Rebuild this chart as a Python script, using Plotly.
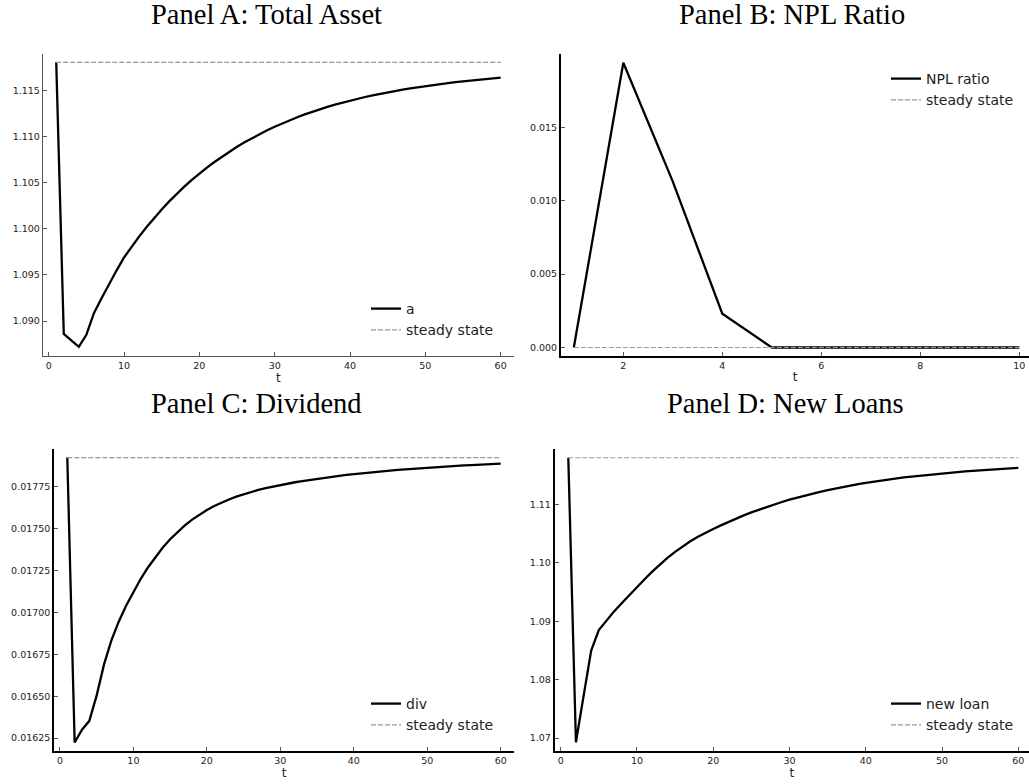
import plotly.graph_objects as go

W, H = 1029, 784

t60 = list(range(1, 61))
t10 = list(range(1, 11))

asset = [1.1181, 1.0886, 1.0879, 1.0872, 1.0885, 1.09085, 1.09245, 1.09400, 1.09548, 1.09690,
         1.09807, 1.09917, 1.10021, 1.10119, 1.10212, 1.10299, 1.10381, 1.10459, 1.10532, 1.10601,
         1.10666, 1.10727, 1.10785, 1.10840, 1.10892, 1.10941, 1.10987, 1.11030, 1.11071, 1.11110,
         1.11146, 1.11180, 1.11213, 1.11244, 1.11273, 1.11300, 1.11325, 1.11349, 1.11372, 1.11394,
         1.11414, 1.11433, 1.11451, 1.11468, 1.11484, 1.11499, 1.11513, 1.11527, 1.11540, 1.11552,
         1.11563, 1.11574, 1.11584, 1.11594, 1.11603, 1.11612, 1.11620, 1.11628, 1.11636, 1.11643]
asset_ss = 1.1181

npl = [0.0000, 0.0194, 0.0113, 0.0023, 0.0000, 0.0000, 0.0000, 0.0000, 0.0000, 0.0000]
npl_ss = 0.0

div = [0.017925, 0.016224, 0.016300, 0.016353, 0.016505, 0.016690, 0.016833, 0.016945, 0.017040, 0.017124,
       0.017201, 0.017270, 0.017332, 0.0173875, 0.017437, 0.017481, 0.017520, 0.0175545, 0.017585, 0.017612,
       0.0176355, 0.0176563, 0.0176748, 0.0176913, 0.0177061, 0.0177194, 0.0177314, 0.0177423, 0.0177522, 0.0177613,
       0.0177697, 0.0177775, 0.0177848, 0.0177917, 0.0177982, 0.0178044, 0.0178102, 0.0178157, 0.0178209, 0.0178258,
       0.0178305, 0.0178350, 0.0178393, 0.0178434, 0.0178473, 0.0178510, 0.0178546, 0.0178580, 0.0178612, 0.0178643,
       0.0178673, 0.0178701, 0.0178728, 0.0178754, 0.0178779, 0.0178803, 0.0178826, 0.0178848, 0.0178869, 0.0178889]
div_ss = 0.017925

loan = [1.1180, 1.0693, 1.0772, 1.0850, 1.0885, 1.0902, 1.0917, 1.0931, 1.0945, 1.0958,
        1.0972, 1.0985, 1.0997, 1.10085, 1.10190, 1.10285, 1.10370, 1.10448, 1.10518, 1.10582,
        1.10643, 1.10703, 1.10760, 1.10814, 1.10865, 1.10913, 1.10959, 1.11002, 1.11043, 1.11082,
        1.11118, 1.11153, 1.11186, 1.11217, 1.11246, 1.11274, 1.11300, 1.11325, 1.11348, 1.11370,
        1.11391, 1.11410, 1.11429, 1.11446, 1.11463, 1.11478, 1.11493, 1.11507, 1.11520, 1.11533,
        1.11545, 1.11556, 1.11567, 1.11577, 1.11587, 1.11596, 1.11605, 1.11613, 1.11621, 1.11628]
loan_ss = 1.1180

titles = ["Panel A: Total Asset", "Panel B: NPL Ratio", "Panel C: Dividend", "Panel D: New Loans"]
names = ["a", "NPL ratio", "div", "new loan"]

a_yticks = [1.090, 1.095, 1.100, 1.105, 1.110, 1.115]
b_yticks = [0.000, 0.005, 0.010, 0.015]
c_yticks = [0.01625, 0.01650, 0.01675, 0.01700, 0.01725, 0.01750, 0.01775]
d_yticks = [1.07, 1.08, 1.09, 1.10, 1.11]
x60_ticks = [0, 10, 20, 30, 40, 50, 60]
x10_ticks = [2, 4, 6, 8, 10]

def px(a, b):
    return [a / W, b / W]

def py(top, bottom):
    return [1 - bottom / H, 1 - top / H]

fig = go.Figure()

panels = [
    dict(x=t60, y=asset, ss=asset_ss, xa="x", ya="y", leg="legend"),
    dict(x=t10, y=npl, ss=npl_ss, xa="x2", ya="y2", leg="legend2"),
    dict(x=t60, y=div, ss=div_ss, xa="x3", ya="y3", leg="legend3"),
    dict(x=t60, y=loan, ss=loan_ss, xa="x4", ya="y4", leg="legend4"),
]
for i, p in enumerate(panels):
    fig.add_trace(go.Scatter(x=p["x"], y=p["y"], mode="lines", name=names[i],
                             line=dict(color="black", width=2.3),
                             xaxis=p["xa"], yaxis=p["ya"], legend=p["leg"]))
    fig.add_trace(go.Scatter(x=p["x"], y=[p["ss"]] * len(p["x"]), mode="lines",
                             name="steady state",
                             line=dict(color="#999999", width=1.2, dash="5px,2px"),
                             xaxis=p["xa"], yaxis=p["ya"], legend=p["leg"]))

tickfont = dict(family="DejaVu Sans", size=9.5, color="#222222")

def axis(domain, rng, tickvals, fmt=None, color="black", width=2, title=None):
    d = dict(domain=domain, range=rng, tickvals=tickvals, ticks="inside", ticklen=4,
             tickcolor="#555555", tickwidth=1, showgrid=False, zeroline=False,
             showline=True, linecolor=color, linewidth=width, tickfont=tickfont,
             fixedrange=True)
    if fmt:
        d["tickformat"] = fmt
    if title:
        d["title"] = dict(text=title, font=dict(family="DejaVu Sans", size=12, color="#222222"),
                          standoff=2)
    return d

fig.update_layout(
    xaxis=axis(px(42.9, 514.0), [-0.77, 61.77], x60_ticks, color="#555555", width=1.3, title="t"),
    yaxis=axis(py(54, 356), [1.0862, 1.1190], a_yticks, ".3f", color="#555555", width=1.3),
    xaxis2=axis(px(561, 1029), [0.741, 10.196], x10_ticks, title="t"),
    yaxis2=axis(py(54, 356), [-0.00058, 0.0200], b_yticks, ".3f"),
    xaxis3=axis(px(54.3, 513.7), [-0.77, 61.77], x60_ticks, title="t"),
    yaxis3=axis(py(449, 751), [0.016173, 0.017976], c_yticks, ".5f"),
    xaxis4=axis(px(554.8, 1029), [-0.77, 61.40], x60_ticks, title="t"),
    yaxis4=axis(py(449, 751), [1.0678, 1.1195], d_yticks, ".2f"),
)
for ax, an in [("yaxis", "x"), ("yaxis2", "x2"), ("yaxis3", "x3"), ("yaxis4", "x4")]:
    fig.layout[ax].anchor = an
for ax, an in [("xaxis", "y"), ("xaxis2", "y2"), ("xaxis3", "y3"), ("xaxis4", "y4")]:
    fig.layout[ax].anchor = an

legfont = dict(family="DejaVu Sans", size=14, color="#222222")

def leg(xpx, ypx):
    return dict(x=xpx / W, y=1 - ypx / H, xanchor="left", yanchor="top", font=legfont,
                bgcolor="rgba(255,255,255,0)", borderwidth=0, tracegroupgap=0,
                itemwidth=30)

fig.update_layout(
    legend=leg(366, 293),
    legend2=leg(886, 63),
    legend3=leg(366, 688),
    legend4=leg(886, 688),
)

title_pos = [(266, 14), (792, 14), (256, 403), (785, 403)]
for txt, (xx, yy) in zip(titles, title_pos):
    fig.add_annotation(text=txt, x=xx / W, y=1 - yy / H, xref="paper", yref="paper",
                       showarrow=False, xanchor="center", yanchor="middle",
                       font=dict(family="Liberation Serif", size=28.5, color="black"))

fig.update_layout(width=W, height=H, margin=dict(l=0, r=0, t=0, b=0),
                  paper_bgcolor="white", plot_bgcolor="white", showlegend=True)

fig.write_html("out.html")
